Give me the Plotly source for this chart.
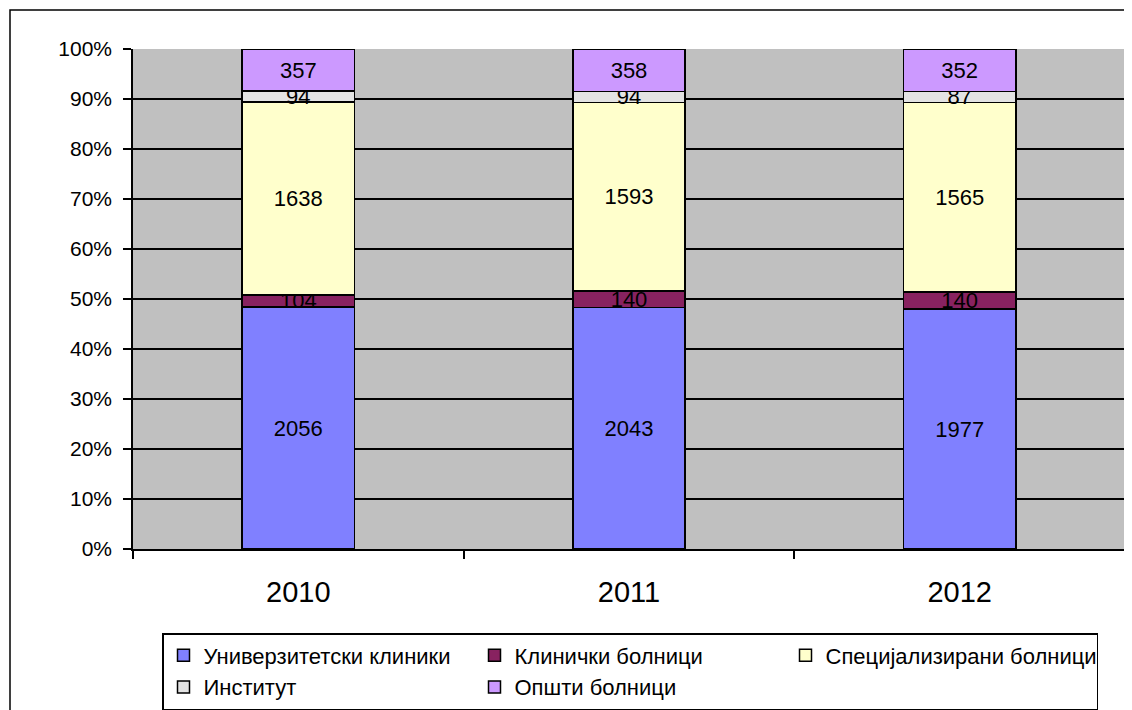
import plotly.graph_objects as go

years = ["2010", "2011", "2012"]
series_names = ["Универзитетски клиники", "Клинички болници", "Специјализирани болници", "Институт", "Општи болници"]
univ = [2056, 2043, 1977]
klin = [104, 140, 140]
spec = [1638, 1593, 1565]
inst = [94, 94, 87]
opsti = [357, 358, 352]
colors = ["#8080FF", "#882260", "#FFFFCC", "#E3E3E3", "#CC99FF"]
y_ticks = [0, 10, 20, 30, 40, 50, 60, 70, 80, 90, 100]
y_tick_labels = [f"{v}%" for v in y_ticks]

FONT = "Arial, Liberation Sans, sans-serif"

# page body has an 8px margin; figure is sized so it ends at the window edge
W, H = 1124, 702
OFF = 8
L, R, T, B = 133 - OFF, W - (1125 - OFF), 49 - OFF, H - (549 - OFF)
PW, PH = W - L - R, H - T - B


def px_x(x):
    return (x - OFF - L) / PW


def px_y(y):
    return (H - B - (y - OFF)) / PH


fig = go.Figure()
for name, vals, col in zip(series_names, [univ, klin, spec, inst, opsti], colors):
    fig.add_trace(go.Bar(
        x=years, y=vals, name=name,
        marker=dict(color=col, line=dict(color="black", width=1.5)),
        width=0.34,
        text=[str(v) for v in vals],
        textposition="inside", insidetextanchor="middle",
        constraintext="none", textangle=0,
        textfont=dict(family=FONT, size=22, color="black"),
    ))

fig.update_layout(
    barmode="stack", barnorm="percent",
    width=W, height=H,
    margin=dict(l=L, r=R, t=T, b=B, autoexpand=False),
    paper_bgcolor="white", plot_bgcolor="#C0C0C0",
    font=dict(family=FONT, color="black"),
    showlegend=True,
    legend=dict(
        orientation="h", x=px_x(162), y=px_y(633), xanchor="left", yanchor="top",
        traceorder="normal", entrywidth=266, entrywidthmode="pixels",
        bordercolor="black", borderwidth=1.5, bgcolor="white",
        font=dict(family=FONT, size=22, color="black"),
        itemwidth=30,
    ),
    xaxis=dict(
        type="category", showgrid=False, showline=True, linecolor="black", linewidth=1.5,
        ticks="outside", tickson="boundaries", ticklen=8, tickcolor="black", tickwidth=1.5,
        tickfont=dict(family=FONT, size=29, color="black"), ticklabelstandoff=16,
    ),
    yaxis=dict(
        range=[0, 100], tickvals=y_ticks, ticktext=y_tick_labels,
        showgrid=True, gridcolor="black", gridwidth=1.5,
        showline=True, linecolor="black", linewidth=1.5,
        ticks="outside", ticklen=8, tickcolor="black", tickwidth=1.5,
        tickfont=dict(family=FONT, size=21, color="black"), ticklabelstandoff=7,
        zeroline=False,
    ),
    shapes=[dict(type="rect", xref="paper", yref="paper",
                 x0=px_x(10), x1=px_x(1150),
                 y0=px_y(730), y1=px_y(10),
                 line=dict(color="black", width=1.5), fillcolor="rgba(0,0,0,0)", layer="below")],
)

fig.write_html("out.html")
